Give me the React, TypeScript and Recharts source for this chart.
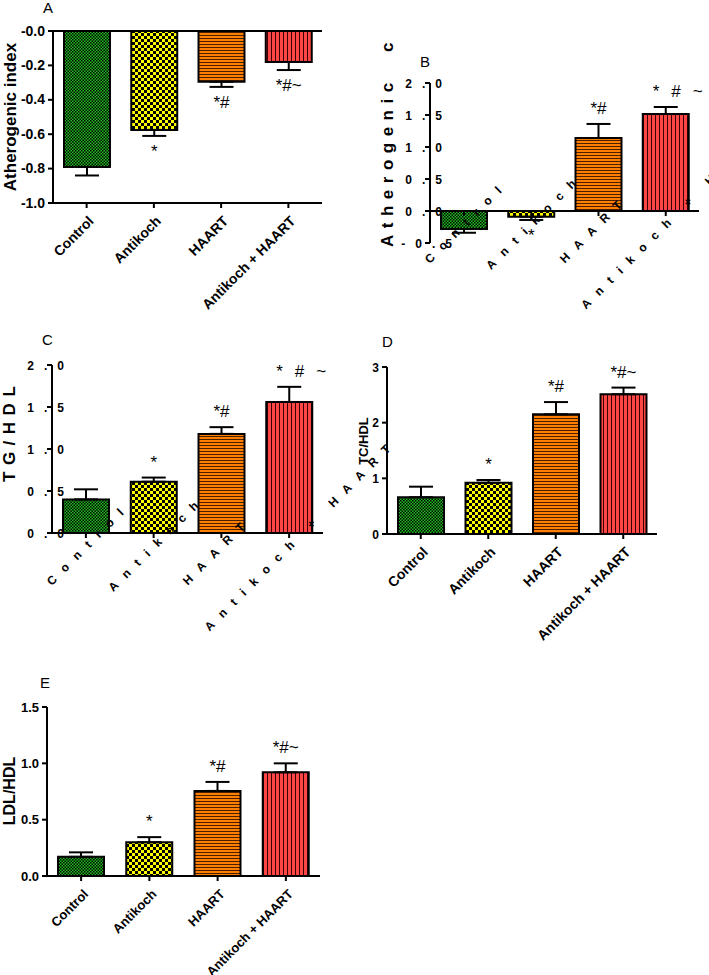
import React from 'react';
import { BarChart, Bar, XAxis, YAxis, ErrorBar, Cell, LabelList, ReferenceLine } from 'recharts';

const FONT = 'Arial, "Liberation Sans", Helvetica, sans-serif';

const groups = ['Control', 'Antikoch', 'HAART', 'Antikoch + HAART'];
const fills = ['url(#pat-ctrl)', 'url(#pat-ak)', 'url(#pat-haart)', 'url(#pat-combo)'];
const marks = ['', '*', '*#', '*#~'];

// A - Atherogenic index
const aValues = [-0.79, -0.575, -0.295, -0.18];
const aErrors = [0.05, 0.035, 0.03, 0.047];
const aTicks = [-1, -0.8, -0.6, -0.4, -0.2, 0];
const aTickLabels = ['-1.0', '-0.8', '-0.6', '-0.4', '-0.2', '-0.0'];

// B - Atherogenic coefficient (label shows as "Atherogenic c" in the figure)
const bValues = [-0.28, -0.09, 1.14, 1.515];
const bErrors = [0.06, 0.05, 0.22, 0.11];
const bTicks = [-0.5, 0, 0.5, 1, 1.5, 2];
const bTickLabels = ['-0.5', '0.0', '0.5', '1.0', '1.5', '2.0'];

// C - TG/HDL
const cValues = [0.4, 0.61, 1.18, 1.56];
const cErrors = [0.12, 0.05, 0.08, 0.18];
const cTicks = [0, 0.5, 1, 1.5, 2];
const cTickLabels = ['0.0', '0.5', '1.0', '1.5', '2.0'];

// D - TC/HDL
const dValues = [0.66, 0.92, 2.15, 2.51];
const dErrors = [0.19, 0.05, 0.22, 0.12];
const dTicks = [0, 1, 2, 3];
const dTickLabels = ['0', '1', '2', '3'];

// E - LDL/HDL
const eValues = [0.17, 0.3, 0.755, 0.92];
const eErrors = [0.04, 0.045, 0.08, 0.08];
const eTicks = [0, 0.5, 1, 1.5];
const eTickLabels = ['0.0', '0.5', '1.0', '1.5'];

let ctx: CanvasRenderingContext2D | null = null;
const measure = (s: string, font: string) => {
  if (!ctx) ctx = document.createElement('canvas').getContext('2d');
  if (!ctx) return s.length * 7;
  ctx.font = font;
  return ctx.measureText(s).width;
};

// text placed as if it had no letter spacing, then spread out from its start
const SpacedText = ({ x, y, text, size, bold = true, spacing, wordSpacing, angle = 0, anchor = 'start' }: any) => {
  const w = measure(text, `${bold ? 'bold ' : ''}${size}px Arial`);
  const shift = anchor === 'middle' ? w / 2 : anchor === 'end' ? w : 0;
  const rad = (angle * Math.PI) / 180;
  const sx = x - shift * Math.cos(rad);
  const sy = y - shift * Math.sin(rad);
  return (
    <text
      x={sx}
      y={sy}
      transform={angle ? `rotate(${angle} ${sx} ${sy})` : undefined}
      fontSize={size}
      fontWeight={bold ? 'bold' : 'normal'}
      fontFamily={FONT}
      letterSpacing={spacing}
      wordSpacing={wordSpacing}
      fill="#000"
    >
      {text}
    </text>
  );
};

const barBox = (p: any) => {
  const vb = p.viewBox && p.viewBox.width != null ? p.viewBox : p;
  const { x, y, width, height } = vb;
  return { cx: x + width / 2, top: Math.min(y, y + height), bottom: Math.max(y, y + height) };
};

interface PanelProps {
  letter: string;
  letterPos: [number, number];
  left: number;
  top: number;
  width: number;
  height: number;
  plot: { l: number; t: number; r: number; b: number };
  values: number[];
  errors: number[];
  domain: [number, number];
  ticks: number[];
  tickLabels: string[];
  yLabel: string;
  yLabelPos: [number, number];
  yLabelSize: number;
  tickFont?: number;
  xFont?: number;
  spaced?: boolean;
  zeroAxis?: boolean;
}

const Panel: React.FC<PanelProps> = (pp) => {
  const { values, errors, plot, spaced, zeroAxis, ticks, tickLabels } = pp;
  const tickFont = pp.tickFont ?? 13;
  const xFont = pp.xFont ?? 13;
  const yW = 40;
  const xH = zeroAxis ? 0 : 30;
  const data = groups.map((name, i) => ({
    name,
    value: values[i],
    err: values[i] < 0 ? [errors[i], 0] : [0, errors[i]],
  }));

  const markContent = (p: any) => {
    const i = groups.indexOf(p.value);
    const m = marks[i];
    if (!m) return null;
    const v = values[i];
    const { cx, top, bottom } = barBox(p);
    const ppu = (bottom - top) / Math.abs(v);
    const pos = v >= 0;
    const end = pos ? top - errors[i] * ppu : bottom + errors[i] * ppu;
    const by = pos ? end - 10 : end + 21;
    if (spaced && i === 3) {
      return <SpacedText x={cx} y={by} text={m} size={17} bold={false} spacing={12} anchor="middle" />;
    }
    return (
      <text x={cx} y={by} textAnchor="middle" fontSize={17} fontFamily={FONT} fill="#000">
        {m}
      </text>
    );
  };

  const zeroTickContent = (p: any) => {
    const i = groups.indexOf(p.value);
    const v = values[i];
    const { cx, top, bottom } = barBox(p);
    const zero = v >= 0 ? bottom : top;
    return (
      <g>
        <line x1={cx} x2={cx} y1={zero} y2={zero + 5} stroke="#000" strokeWidth={2} />
        <SpacedText x={cx - 4} y={zero + 23} text={p.value} size={12} spacing={10} angle={-45} anchor="end" />
      </g>
    );
  };

  const yTick = (p: any) => {
    const label = tickLabels[ticks.indexOf(p.payload.value)] ?? String(p.payload.value);
    if (spaced) {
      return <SpacedText x={p.x - 3} y={p.y + 4.5} text={label} size={12} spacing={10} anchor="end" />;
    }
    return (
      <text x={p.x - 3} y={p.y + 4.5} textAnchor="end" fontSize={tickFont} fontWeight="bold" fontFamily={FONT} fill="#000">
        {label}
      </text>
    );
  };

  const xTick = (p: any) => {
    if (spaced) {
      return <SpacedText x={p.x - 4} y={p.y + 18} text={p.payload.value} size={12} spacing={10} angle={-45} anchor="end" />;
    }
    const px = p.x + 8;
    const py = p.y + 14;
    return (
      <text
        x={px}
        y={py}
        transform={`rotate(-45 ${px} ${py})`}
        textAnchor="end"
        fontSize={xFont}
        fontWeight="bold"
        fontFamily={FONT}
        fill="#000"
      >
        {p.payload.value}
      </text>
    );
  };

  const [lx, ly] = pp.yLabelPos;

  return (
    <div style={{ position: 'absolute', left: pp.left, top: pp.top, width: pp.width, height: pp.height }}>
      <BarChart
        width={pp.width}
        height={pp.height}
        data={data}
        margin={{ top: plot.t, left: plot.l - yW, right: pp.width - plot.r, bottom: pp.height - plot.b - xH }}
      >
        <text x={pp.letterPos[0]} y={pp.letterPos[1]} fontSize={15} fontFamily={FONT} fill="#000">
          {pp.letter}
        </text>
        {spaced ? (
          <SpacedText x={lx} y={ly} text={pp.yLabel} size={pp.yLabelSize} spacing={6.5} wordSpacing={13} angle={-90} />
        ) : (
          <text
            x={lx}
            y={ly}
            transform={`rotate(-90 ${lx} ${ly})`}
            textAnchor="middle"
            fontSize={pp.yLabelSize}
            fontWeight="bold"
            fontFamily={FONT}
            fill="#000"
          >
            {pp.yLabel}
          </text>
        )}
        <XAxis
          dataKey="name"
          hide={zeroAxis}
          height={xH}
          interval={0}
          axisLine={{ stroke: '#000', strokeWidth: 2 }}
          tickLine={{ stroke: '#000', strokeWidth: 2 }}
          tickSize={5}
          tickMargin={0}
          tick={xTick}
        />
        <YAxis
          type="number"
          width={yW}
          domain={pp.domain}
          ticks={ticks}
          interval={0}
          allowDataOverflow
          axisLine={{ stroke: '#000', strokeWidth: 2 }}
          tickLine={{ stroke: '#000', strokeWidth: 2 }}
          tickSize={5}
          tickMargin={0}
          tick={yTick}
        />
        {pp.domain[0] < 0 && <ReferenceLine y={0} stroke="#000" strokeWidth={2} />}
        <Bar dataKey="value" barSize={46} stroke="#000" strokeWidth={2} isAnimationActive={false}>
          {data.map((d, i) => (
            <Cell key={d.name} fill={fills[i]} />
          ))}
          <ErrorBar dataKey="err" width={12} stroke="#000" strokeWidth={2} direction="y" isAnimationActive={false} />
          <LabelList dataKey="name" content={markContent} />
          {zeroAxis && <LabelList dataKey="name" content={zeroTickContent} />}
        </Bar>
      </BarChart>
    </div>
  );
};

const Patterns = () => (
  <svg width={0} height={0} style={{ position: 'absolute' }}>
    <defs>
      <pattern id="pat-ctrl" width={3} height={3} patternUnits="userSpaceOnUse">
        <rect width={3} height={3} fill="#22c022" />
        <rect width={1.5} height={1.5} fill="#000" />
        <rect x={1.5} y={1.5} width={1.5} height={1.5} fill="#000" />
      </pattern>
      <pattern id="pat-ak" width={6} height={6} patternUnits="userSpaceOnUse">
        <rect width={6} height={6} fill="#ffff00" />
        <rect width={3} height={3} fill="#000" />
        <rect x={3} y={3} width={3} height={3} fill="#000" />
      </pattern>
      <pattern id="pat-haart" width={4} height={3} patternUnits="userSpaceOnUse">
        <rect width={4} height={3} fill="#ff8000" />
        <rect y={2} width={4} height={1} fill="#4a2000" />
      </pattern>
      <pattern id="pat-combo" width={4} height={4} patternUnits="userSpaceOnUse">
        <rect width={4} height={4} fill="#ff4646" />
        <rect x={3} width={1} height={4} fill="#3a0000" />
      </pattern>
    </defs>
  </svg>
);

export default function App() {
  return (
    <div style={{ position: 'absolute', left: 0, top: 0, width: 709, height: 975, background: '#fff', fontFamily: FONT }}>
      <Patterns />
      <Panel
        letter="A"
        letterPos={[43, 13]}
        left={0}
        top={0}
        width={360}
        height={320}
        plot={{ l: 53, t: 31, r: 322, b: 203 }}
        values={aValues}
        errors={aErrors}
        domain={[-1, 0]}
        ticks={aTicks}
        tickLabels={aTickLabels}
        yLabel="Atherogenic index"
        yLabelPos={[16, 117]}
        yLabelSize={17}
        tickFont={14}
        xFont={14}
      />
      <Panel
        letter="B"
        letterPos={[60, 67]}
        left={360}
        top={0}
        width={349}
        height={320}
        plot={{ l: 70, t: 83, r: 339, b: 243 }}
        values={bValues}
        errors={bErrors}
        domain={[-0.5, 2]}
        ticks={bTicks}
        tickLabels={bTickLabels}
        yLabel="Atherogenic c"
        yLabelPos={[33, 247]}
        yLabelSize={17}
        spaced
        zeroAxis
      />
      <Panel
        letter="C"
        letterPos={[42, 25]}
        left={0}
        top={320}
        width={420}
        height={330}
        plot={{ l: 52, t: 45, r: 323, b: 213 }}
        values={cValues}
        errors={cErrors}
        domain={[0, 2]}
        ticks={cTicks}
        tickLabels={cTickLabels}
        yLabel="TG/HDL"
        yLabelPos={[15, 162]}
        yLabelSize={17}
        spaced
      />
      <Panel
        letter="D"
        letterPos={[42, 27]}
        left={340}
        top={320}
        width={369}
        height={330}
        plot={{ l: 47, t: 47, r: 317, b: 214 }}
        values={dValues}
        errors={dErrors}
        domain={[0, 3]}
        ticks={dTicks}
        tickLabels={dTickLabels}
        yLabel="TC/HDL"
        yLabelPos={[28, 121]}
        yLabelSize={13}
        tickFont={12}
        xFont={14}
      />
      <Panel
        letter="E"
        letterPos={[40, 48]}
        left={0}
        top={640}
        width={360}
        height={335}
        plot={{ l: 47, t: 67, r: 320, b: 236 }}
        values={eValues}
        errors={eErrors}
        domain={[0, 1.5]}
        ticks={eTicks}
        tickLabels={eTickLabels}
        yLabel="LDL/HDL"
        yLabelPos={[15, 151]}
        yLabelSize={16}
        tickFont={13}
        xFont={13}
      />
    </div>
  );
}
